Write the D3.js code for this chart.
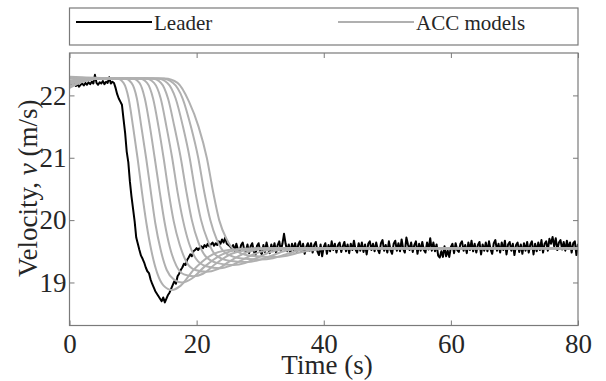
<!DOCTYPE html>
<html>
<head>
<meta charset="utf-8">
<script src="https://cdn.jsdelivr.net/npm/d3@7"></script>
<style>
  body { margin: 0; background: #fff; }
  svg text { font-family: "Liberation Serif", "Times New Roman", serif; fill: #262626; }
</style>
</head>
<body>
<svg id="canvas" width="606" height="381"></svg>
<script>
// leader velocity, sampled every 0.25 s from t = 0
var leaderStep = 0.25
var leaderSpeed = [
  22.18, 22.20, 22.16, 22.19, 22.15, 22.18, 22.14, 22.17,
  22.19, 22.16, 22.20, 22.17, 22.21, 22.18, 22.22, 22.19,
  22.33, 22.20, 22.17, 22.21, 22.19, 22.23, 22.18, 22.22,
  22.20, 22.29, 22.19, 22.22, 22.20, 22.12, 22.02, 21.95,
  21.90, 21.85, 21.62, 21.40, 21.10, 20.93, 20.62, 20.38,
  20.18, 19.98, 19.72, 19.62, 19.52, 19.43, 19.38, 19.32,
  19.24, 19.18, 19.15, 19.05, 18.98, 18.92, 18.86, 18.82,
  18.78, 18.74, 18.70, 18.76, 18.68, 18.74, 18.80, 18.84,
  18.90, 18.96, 19.02, 18.98, 19.10, 19.14, 19.20, 19.24,
  19.30, 19.28, 19.36, 19.40, 19.45, 19.42, 19.50, 19.52,
  19.55, 19.52, 19.56, 19.58, 19.55, 19.60, 19.57, 19.62,
  19.58, 19.61, 19.64, 19.59, 19.63, 19.60, 19.66, 19.62,
  19.69, 19.64, 19.72, 19.62, 19.60, 19.58, 19.55,
  19.60, 19.51, 19.62, 19.53, 19.49, 19.60, 19.64, 19.52,
  19.50, 19.61, 19.47, 19.58, 19.63, 19.50, 19.44, 19.59,
  19.63, 19.50, 19.45, 19.60, 19.49, 19.64, 19.53, 19.47,
  19.61, 19.50, 19.63, 19.48, 19.60, 19.66, 19.51, 19.62,
  19.78, 19.62, 19.50, 19.61, 19.47, 19.62, 19.52, 19.63,
  19.49, 19.61, 19.66, 19.50, 19.62, 19.46, 19.57, 19.63,
  19.51, 19.63, 19.48, 19.60, 19.65, 19.50, 19.44, 19.61,
  19.42, 19.57, 19.63, 19.46, 19.60, 19.50, 19.66, 19.52,
  19.62, 19.48, 19.60, 19.64, 19.49, 19.58, 19.65, 19.50,
  19.61, 19.47, 19.62, 19.52, 19.67, 19.53, 19.48, 19.63,
  19.51, 19.64, 19.49, 19.61, 19.45, 19.62, 19.66, 19.52,
  19.62, 19.50, 19.64, 19.53, 19.47, 19.63, 19.68, 19.51,
  19.60, 19.48, 19.66, 19.52, 19.46, 19.62, 19.67, 19.51,
  19.63, 19.50, 19.69, 19.54, 19.48, 19.72, 19.61, 19.52,
  19.64, 19.49, 19.60, 19.66, 19.46, 19.62, 19.51, 19.65,
  19.52, 19.48, 19.64, 19.53, 19.71, 19.51, 19.64, 19.50,
  19.61, 19.43, 19.40, 19.50, 19.41, 19.58, 19.42, 19.51,
  19.41, 19.57, 19.62, 19.47, 19.63, 19.52, 19.49, 19.62,
  19.66, 19.51, 19.60, 19.47, 19.64, 19.52, 19.67, 19.50,
  19.62, 19.48, 19.60, 19.65, 19.45, 19.61, 19.51, 19.64,
  19.50, 19.66, 19.53, 19.46, 19.63, 19.68, 19.51, 19.62,
  19.48, 19.64, 19.52, 19.67, 19.45, 19.61, 19.65, 19.51,
  19.62, 19.44, 19.60, 19.64, 19.49, 19.61, 19.46, 19.63,
  19.51, 19.65, 19.48, 19.61, 19.66, 19.45, 19.62, 19.50,
  19.64, 19.52, 19.68, 19.48, 19.62, 19.66, 19.51, 19.70,
  19.62, 19.73, 19.58, 19.71, 19.52, 19.64, 19.68, 19.53,
  19.65, 19.51, 19.67, 19.54, 19.64, 19.48, 19.63, 19.66,
  19.44, 19.62
]

// ACC follower models: key points [time, velocity]
var accModels = [
  [[0, 22.12], [2, 22.22], [5, 22.27], [7.5, 22.27], [8.5, 22.2], [9.3, 21.95], [10.0, 21.5], [10.7, 21.0], [11.4, 20.45], [12.1, 19.95], [12.9, 19.5], [13.8, 19.15], [14.8, 18.95], [16.1, 18.88], [17.5, 18.95], [19.5, 19.2], [22, 19.42], [25, 19.52], [30, 19.55], [80, 19.55]],
  [[0, 22.28], [2, 22.28], [5, 22.28], [8.7, 22.27], [9.75, 22.2], [10.6, 21.95], [11.3, 21.5], [12.05, 21.0], [12.8, 20.45], [13.5, 19.95], [14.35, 19.52], [15.3, 19.2], [16.4, 19.05], [17.7, 19.0], [19.2, 19.06], [21.2, 19.25], [23.8, 19.44], [27, 19.53], [32, 19.55], [80, 19.55]],
  [[0, 22.18], [2, 22.24], [5, 22.27], [9.9, 22.27], [11.0, 22.2], [11.85, 21.95], [12.65, 21.5], [13.4, 21.0], [14.2, 20.45], [14.95, 19.97], [15.8, 19.56], [16.8, 19.27], [18.0, 19.13], [19.5, 19.1], [21.0, 19.14], [23.0, 19.3], [25.5, 19.46], [29, 19.53], [34, 19.55], [80, 19.55]],
  [[0, 22.30], [2, 22.29], [5, 22.28], [11.0, 22.27], [12.2, 22.2], [13.15, 21.95], [14.0, 21.5], [14.8, 21.0], [15.6, 20.45], [16.4, 19.98], [17.35, 19.6], [18.4, 19.33], [19.8, 19.2], [21.6, 19.17], [23.2, 19.21], [25.2, 19.34], [27.8, 19.48], [31, 19.54], [36, 19.55], [80, 19.55]],
  [[0, 22.22], [2, 22.25], [5, 22.27], [12.0, 22.27], [13.3, 22.2], [14.35, 21.95], [15.25, 21.5], [16.15, 21.0], [17.0, 20.45], [17.85, 20.0], [18.8, 19.63], [19.9, 19.38], [21.5, 19.26], [23.7, 19.23], [25.4, 19.27], [27.5, 19.38], [30, 19.49], [33, 19.54], [38, 19.55], [80, 19.55]],
  [[0, 22.15], [2, 22.22], [5, 22.27], [13.0, 22.27], [14.4, 22.2], [15.5, 21.95], [16.5, 21.5], [17.5, 21.0], [18.4, 20.45], [19.25, 20.0], [20.25, 19.65], [21.4, 19.42], [23.3, 19.31], [25.8, 19.28], [27.6, 19.31], [29.6, 19.4], [32, 19.5], [35, 19.54], [40, 19.55], [80, 19.55]],
  [[0, 22.27], [2, 22.27], [5, 22.28], [13.8, 22.27], [15.4, 22.2], [16.7, 21.95], [17.85, 21.5], [18.9, 21.0], [19.8, 20.45], [20.7, 20.0], [21.75, 19.67], [22.9, 19.45], [25.1, 19.35], [27.9, 19.33], [29.8, 19.36], [31.8, 19.43], [34, 19.51], [37, 19.54], [42, 19.55], [80, 19.55]],
  [[0, 22.20], [2, 22.24], [5, 22.27], [14.5, 22.27], [16.3, 22.2], [17.8, 21.95], [19.1, 21.5], [20.25, 21.0], [21.2, 20.45], [22.15, 20.0], [23.2, 19.68], [24.45, 19.48], [26.8, 19.39], [30.0, 19.37], [32.0, 19.39], [34.0, 19.45], [36.5, 19.52], [39, 19.54], [44, 19.55], [80, 19.55]],
  [[0, 22.24], [2, 22.26], [5, 22.28], [15.0, 22.27], [17.0, 22.2], [18.8, 21.9], [20.3, 21.5], [21.6, 21.0], [22.6, 20.45], [23.55, 20.0], [24.7, 19.7], [25.95, 19.52], [28.5, 19.43], [32.1, 19.41], [34.2, 19.43], [36.2, 19.48], [38.5, 19.52], [41, 19.54], [46, 19.55], [80, 19.55]]
]

var xTicks = [0, 20, 40, 60, 80]
var yTicks = [19, 20, 21, 22]
var legendLabels = ['Leader', 'ACC models']

var svg = d3.select('#canvas')
// plot box edges (window.top is reserved, so use box* names)
var boxLeft = 69.5, boxRight = 578, boxTop = 53, boxBottom = 325.5

var x = d3.scaleLinear().domain([0, 80]).range([boxLeft, boxRight])
var y = d3.scaleLinear().domain([18.31, 22.68]).range([boxBottom, boxTop])

var grey = '#b0b0b0'
var axisGrey = '#7a7a7a'

// clip so nothing draws outside the box
svg.append('clipPath').attr('id', 'plotclip')
  .append('rect')
  .attr('x', boxLeft).attr('y', boxTop)
  .attr('width', boxRight - boxLeft).attr('height', boxBottom - boxTop)

var plot = svg.append('g').attr('clip-path', 'url(#plotclip)')

var line = d3.line()
  .x(function(d) { return x(d[0]) })
  .y(function(d) { return y(d[1]) })

// the leader trace (black, noisy)
var leaderPoints = leaderSpeed.map(function(v, i) { return [i * leaderStep, v] })
plot.append('path')
  .datum(leaderPoints)
  .attr('fill', 'none')
  .attr('stroke', '#000')
  .attr('stroke-width', 2)
  .attr('stroke-linejoin', 'round')
  .attr('d', line)

// grey ACC model responses on top
plot.selectAll('.acc')
  .data(accModels)
  .enter()
  .append('path')
  .attr('class', 'acc')
  .attr('fill', 'none')
  .attr('stroke', grey)
  .attr('stroke-width', 2)
  .attr('d', d3.line()
    .x(function(d) { return x(d[0]) })
    .y(function(d) { return y(d[1]) })
    .curve(d3.curveMonotoneX))

// axes: ticks point inwards on all four sides
function styleAxis(g) {
  g.select('.domain').remove()
  g.selectAll('line').attr('stroke', axisGrey)
  g.selectAll('text')
    .style('font-size', '27px')
    .attr('fill', '#262626')
}

svg.append('g')
  .attr('transform', 'translate(0,' + boxBottom + ')')
  .call(d3.axisBottom(x).tickValues(xTicks).tickSizeInner(-5).tickSizeOuter(0).tickPadding(8.5))
  .call(styleAxis)

svg.append('g')
  .attr('transform', 'translate(' + boxLeft + ',0)')
  .call(d3.axisLeft(y).tickValues(yTicks).tickFormat(d3.format('d'))
    .tickSizeInner(-5).tickSizeOuter(0).tickPadding(3))
  .call(styleAxis)

svg.append('g')
  .attr('transform', 'translate(0,' + boxTop + ')')
  .call(d3.axisTop(x).tickValues(xTicks).tickSizeInner(-5).tickSizeOuter(0).tickFormat(''))
  .call(styleAxis)

svg.append('g')
  .attr('transform', 'translate(' + boxRight + ',0)')
  .call(d3.axisRight(y).tickValues(yTicks).tickSizeInner(-5).tickSizeOuter(0).tickFormat(''))
  .call(styleAxis)

svg.append('rect')
  .attr('x', boxLeft).attr('y', boxTop)
  .attr('width', boxRight - boxLeft).attr('height', boxBottom - boxTop)
  .attr('fill', 'none')
  .attr('stroke', axisGrey)
  .attr('stroke-width', 1.2)

// axis titles
svg.append('text')
  .attr('x', 327)
  .attr('y', 374)
  .attr('text-anchor', 'middle')
  .style('font-size', '27px')
  .text('Time (s)')

var ylab = svg.append('text')
  .attr('transform', 'translate(37,' + ((boxTop + boxBottom) / 2 - 1) + ') rotate(-90)')
  .attr('text-anchor', 'middle')
  .style('font-size', '27px')
ylab.append('tspan').text('Velocity, ')
ylab.append('tspan').style('font-style', 'italic').text('v')
ylab.append('tspan').text(' (m/s)')

// legend box above the plot
var legend = svg.append('g')
legend.append('rect')
  .attr('x', boxLeft).attr('y', 8)
  .attr('width', boxRight - boxLeft).attr('height', 37)
  .attr('fill', '#fff')
  .attr('stroke', axisGrey)
  .attr('stroke-width', 1.2)

var legendItems = [
  { label: legendLabels[0], color: '#000', x1: 76, x2: 152 },
  { label: legendLabels[1], color: grey, x1: 338, x2: 414 }
]
legendItems.forEach(function(d) {
  legend.append('line')
    .attr('x1', d.x1).attr('x2', d.x2)
    .attr('y1', 22).attr('y2', 22)
    .attr('stroke', d.color)
    .attr('stroke-width', 2)
  legend.append('text')
    .attr('x', d.x2 + 2)
    .attr('y', 30)
    .style('font-size', '21px')
    .text(d.label)
})
</script>
</body>
</html>
